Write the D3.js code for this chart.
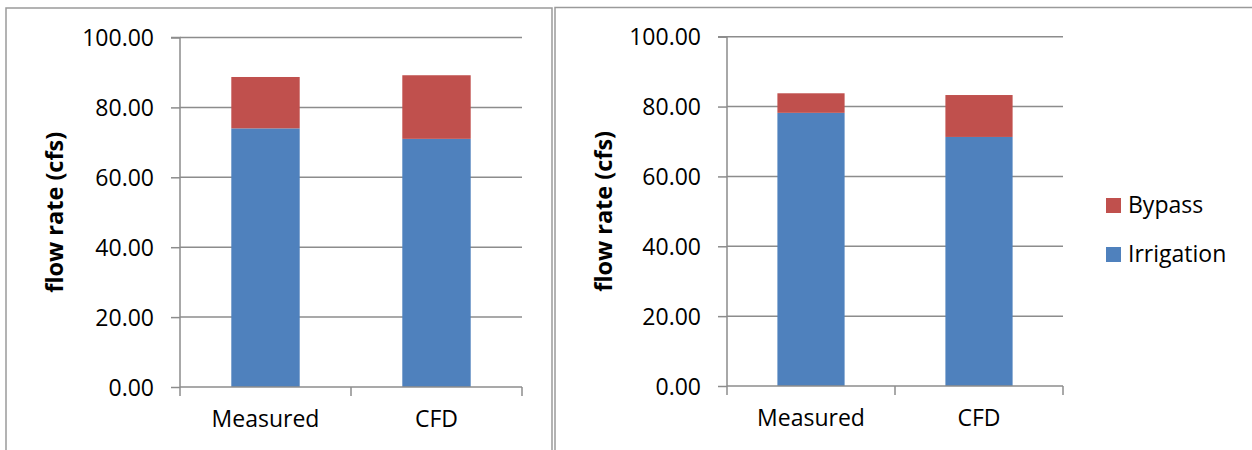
<!DOCTYPE html>
<html>
<head>
<meta charset="utf-8">
<script src="https://cdn.jsdelivr.net/npm/d3@7"></script>
<style>
  html, body { margin: 0; padding: 0; background: #fff; }
  svg { display: block; }
</style>
</head>
<body>
<svg id="chart" width="1252" height="450"></svg>
<script>
// ---- data ----
const categories = ["Measured", "CFD"];
const seriesNames = ["Irrigation", "Bypass"];
const leftIrrigation = [74.0, 71.0];
const leftBypass = [14.7, 18.2];
const rightIrrigation = [78.2, 71.3];
const rightBypass = [5.6, 12.0];
const yTicks = [0, 20, 40, 60, 80, 100];
const yTitle = "flow rate (cfs)";
const legendItems = ["Bypass", "Irrigation"];

// ---- style ----
const colors = { Irrigation: "#4F81BD", Bypass: "#C0504D" };
const gridColor = "#8c8c8c";
const frameColor = "#9a9a9a";
const font = "'Open Sans', 'Noto Sans', sans-serif";

const svg = d3.select("#chart");

// panel frames
svg.append("rect").attr("x", 6).attr("y", 8).attr("width", 546).attr("height", 460)
  .attr("fill", "none").attr("stroke", frameColor).attr("stroke-width", 1.5);
svg.append("rect").attr("x", 555).attr("y", 7.5).attr("width", 720).attr("height", 460)
  .attr("fill", "none").attr("stroke", frameColor).attr("stroke-width", 1.5);

function drawPanel(cfg) {
  const irr = cfg.irrigation, byp = cfg.bypass;
  const rows = categories.map((c, i) => ({ cat: c, Irrigation: irr[i], Bypass: byp[i] }));
  const stacked = d3.stack().keys(seriesNames)(rows);

  const x = d3.scaleBand().domain(categories).range([cfg.x0, cfg.x1])
    .paddingInner(0.6).paddingOuter(0.3);
  const y = d3.scaleLinear().domain([0, 100]).range([cfg.yBottom, cfg.yTop]);

  const g = svg.append("g");

  // gridlines
  g.append("g").selectAll("line").data(yTicks.filter(t => t > 0)).join("line")
    .attr("x1", cfg.x0).attr("x2", cfg.x1)
    .attr("y1", d => y(d)).attr("y2", d => y(d))
    .attr("stroke", gridColor).attr("stroke-width", 1.5);

  // bars
  g.append("g").selectAll("g").data(stacked).join("g")
    .attr("fill", d => colors[d.key])
    .selectAll("rect").data(d => d).join("rect")
    .attr("x", d => x(d.data.cat))
    .attr("width", x.bandwidth())
    .attr("y", d => y(d[1]))
    .attr("height", d => y(d[0]) - y(d[1]));

  // y axis
  const yAxis = d3.axisLeft(y).tickValues(yTicks).tickFormat(d3.format(".2f"))
    .tickSize(9).tickPadding(17);
  const ya = g.append("g").attr("transform", `translate(${cfg.x0},0)`).call(yAxis);
  ya.select(".domain").attr("stroke", gridColor).attr("stroke-width", 1.5)
    .attr("d", `M-9,${y(100)}H0V${y(0)}`);
  ya.selectAll(".tick line").attr("stroke", gridColor).attr("stroke-width", 1.5);
  ya.selectAll(".tick text").attr("font-family", font).attr("font-size", 23)
    .attr("fill", "#000").attr("dy", "0.35em");

  // x axis
  const xAxis = d3.axisBottom(x).tickSize(0).tickPadding(24);
  const xa = g.append("g").attr("transform", `translate(0,${cfg.yBottom})`).call(xAxis);
  xa.select(".domain").attr("stroke", gridColor).attr("stroke-width", 1.5)
    .attr("d", `M${cfg.x0},0H${cfg.x1}`);
  xa.selectAll(".tick text").attr("font-family", font).attr("font-size", 23).attr("fill", "#000");
  const step = x.step();
  const bounds = [cfg.x0].concat(categories.map(c => x(c) + x.bandwidth() + step * x.paddingInner() / 2));
  bounds[bounds.length - 1] = cfg.x1;
  xa.selectAll("line.bound").data(bounds).join("line").attr("class", "bound")
    .attr("x1", d => d).attr("x2", d => d).attr("y1", 0).attr("y2", 9)
    .attr("stroke", gridColor).attr("stroke-width", 1.5);

  // y title
  g.append("text")
    .attr("transform", `translate(${cfg.titleX},${(cfg.yTop + cfg.yBottom) / 2}) rotate(-90)`)
    .attr("text-anchor", "middle").attr("dominant-baseline", "middle")
    .attr("font-family", font).attr("font-weight", "bold").attr("font-size", 23.5)
    .text(yTitle);
}

drawPanel({ irrigation: leftIrrigation, bypass: leftBypass, x0: 180, x1: 522, yTop: 37.5, yBottom: 387, titleX: 57 });
drawPanel({ irrigation: rightIrrigation, bypass: rightBypass, x0: 727, x1: 1063, yTop: 36.7, yBottom: 386, titleX: 606 });

// legend
const lg = svg.append("g");
legendItems.forEach((name, i) => {
  const yy = 198 + i * 49;
  lg.append("rect").attr("x", 1106).attr("y", yy).attr("width", 15).attr("height", 15)
    .attr("fill", colors[name]);
  lg.append("text").attr("x", 1128).attr("y", yy + 15)
    .attr("font-family", font).attr("font-size", 23).attr("fill", "#000").text(name);
});
</script>
</body>
</html>
